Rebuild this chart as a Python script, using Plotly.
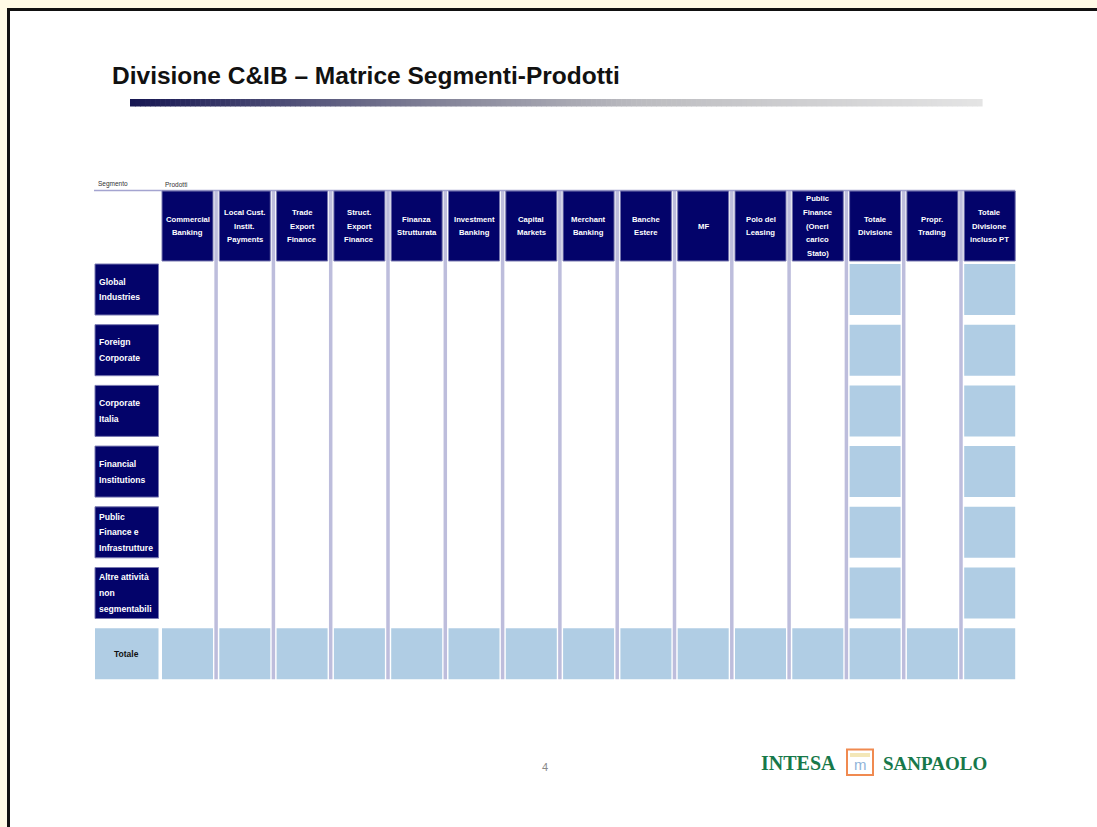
import plotly.graph_objects as go

# ---------------- data ----------------
title_text = "Divisione C&IB – Matrice Segmenti-Prodotti"
products = [
    "Commercial\nBanking",
    "Local Cust.\nInstit.\nPayments",
    "Trade\nExport\nFinance",
    "Struct.\nExport\nFinance",
    "Finanza\nStrutturata",
    "Investment\nBanking",
    "Capital\nMarkets",
    "Merchant\nBanking",
    "Banche\nEstere",
    "MF",
    "Polo del\nLeasing",
    "Public\nFinance\n(Oneri\ncarico\nStato)",
    "Totale\nDivisione",
    "Propr.\nTrading",
    "Totale\nDivisione\nincluso PT",
]
segments = [
    "Global\nIndustries",
    "Foreign\nCorporate",
    "Corporate\nItalia",
    "Financial\nInstitutions",
    "Public\nFinance e\nInfrastrutture",
    "Altre attività\nnon\nsegmentabili",
]
total_label = "Totale"
highlight_products = ["Totale\nDivisione", "Totale\nDivisione\nincluso PT"]
row_header = "Segmento"
col_header = "Prodotti"
page_number = "4"
logo_left = "INTESA"
logo_right = "SANPAOLO"

# ---------------- style / geometry ----------------
W, H = 1097, 827
NAVY = "#03036A"
LIGHT = "#B0CDE4"
LAV = "#BDBDDC"
NARROW = "Liberation Sans Narrow, Arial Narrow, Liberation Sans, Arial"

col_x0, col_pitch, col_w = 162.0, 57.3, 51.0
row_y0, row_pitch, row_h = 264.0, 60.7, 51.0
hdr_top, hdr_bot = 191.0, 261.0
lab_x0, lab_x1 = 95.0, 158.5

fig = go.Figure()
shapes = []
ann = []

# slide background + frame
shapes.append(dict(type="rect", x0=8.5, y0=9.5, x1=W + 20, y1=H + 20,
                   fillcolor="white", line=dict(color="#111111", width=3), layer="below"))

# title
ann.append(dict(x=110, y=75, text="<b>" + title_text.replace("&", "&amp;") + "</b>",
                xanchor="left", yanchor="middle", showarrow=False,
                font=dict(family=NARROW, size=24.5, color="#111111")))

# gradient bar under title
stops = [(0.0, (22, 22, 82)), (0.35, (128, 128, 150)), (0.6, (188, 188, 192)), (1.0, (228, 228, 228))]
def interp(t):
    for (t0, c0), (t1, c1) in zip(stops[:-1], stops[1:]):
        if t0 <= t <= t1:
            f = (t - t0) / (t1 - t0)
            return "rgb(%d,%d,%d)" % tuple(round(a + (b - a) * f) for a, b in zip(c0, c1))
    return "rgb(228,228,228)"
gx0, gx1, nseg = 130.0, 982.0, 170
for k in range(nseg):
    a = gx0 + (gx1 - gx0) * k / nseg
    b = gx0 + (gx1 - gx0) * (k + 1) / nseg + 0.6
    shapes.append(dict(type="rect", x0=a, x1=b, y0=99, y1=106.5,
                       fillcolor=interp((k + 0.5) / nseg), line=dict(width=0)))

n_col = len(products)
n_row = len(segments)
col_left = [col_x0 + i * col_pitch for i in range(n_col)]
row_top = [row_y0 + j * row_pitch for j in range(n_row + 1)]
grid_bottom = row_top[-1] + row_h

# vertical separators between product columns
for i in range(1, n_col):
    xs = col_left[i] - 3.2
    shapes.append(dict(type="line", x0=xs, x1=xs, y0=hdr_top, y1=grid_bottom,
                       line=dict(color=LAV, width=3.5)))

# top horizontal rule
shapes.append(dict(type="line", x0=lab_x0 - 1, x1=col_left[-1] + col_w, y0=hdr_top - 0.5, y1=hdr_top - 0.5,
                   line=dict(color="#A4A4D0", width=1.5)))

# labels above
ann.append(dict(x=lab_x0 + 1, y=184, text=row_header, xanchor="left", yanchor="middle", showarrow=False,
                font=dict(family=NARROW, size=6.5, color="#333333")))
ann.append(dict(x=col_x0 + 1, y=184, text=col_header, xanchor="left", yanchor="middle", showarrow=False,
                font=dict(family=NARROW, size=6.5, color="#333333")))

def add_lines(text, xc, yc, anchor, size, color, spacing, bold=True):
    lines = text.split("\n")
    n = len(lines)
    for k, ln in enumerate(lines):
        y = yc + (k - (n - 1) / 2) * spacing
        ann.append(dict(x=xc, y=y, text=("<b>%s</b>" % ln) if bold else ln,
                        xanchor=anchor, yanchor="middle", showarrow=False,
                        font=dict(family=NARROW, size=size, color=color)))

# header cells
for i, p in enumerate(products):
    x0 = col_left[i]
    shapes.append(dict(type="rect", x0=x0, x1=x0 + col_w, y0=hdr_top, y1=hdr_bot,
                       fillcolor=NAVY, line=dict(color="#7878B0", width=1)))
    add_lines(p, x0 + col_w / 2, (hdr_top + hdr_bot) / 2, "center", 7.7, "white", 13.8)

# segment label cells and highlighted cells
for j, s in enumerate(segments):
    y0 = row_top[j]
    shapes.append(dict(type="rect", x0=lab_x0, x1=lab_x1, y0=y0, y1=y0 + row_h,
                       fillcolor=NAVY, line=dict(color="#7878B0", width=1)))
    add_lines(s, lab_x0 + 1.5, y0 + row_h / 2, "left", 8.6, "white", 15.8)
    for i, p in enumerate(products):
        if p in highlight_products:
            x0 = col_left[i]
            shapes.append(dict(type="rect", x0=x0, x1=x0 + col_w, y0=y0, y1=y0 + row_h,
                               fillcolor=LIGHT, line=dict(width=0)))

# total row
yt = row_top[n_row]
shapes.append(dict(type="rect", x0=lab_x0, x1=lab_x1, y0=yt, y1=yt + row_h,
                   fillcolor=LIGHT, line=dict(width=0)))
add_lines(total_label, (lab_x0 + lab_x1) / 2, yt + row_h / 2, "center", 8.5, "#111111", 14)
for i in range(n_col):
    x0 = col_left[i]
    shapes.append(dict(type="rect", x0=x0, x1=x0 + col_w, y0=yt, y1=yt + row_h,
                       fillcolor=LIGHT, line=dict(width=0)))

# page number
ann.append(dict(x=545, y=767, text=page_number, showarrow=False, xanchor="center", yanchor="middle",
                font=dict(family="Liberation Sans, Arial", size=11, color="#888888")))

# logo
GREEN = "#17784A"
ann.append(dict(x=838, y=763, text="<b>" + logo_left + "</b>", showarrow=False, xanchor="right", yanchor="middle",
                font=dict(family="Liberation Serif, Times New Roman", size=20, color=GREEN)))
ann.append(dict(x=881, y=763, text="<b>" + logo_right + "</b>", showarrow=False, xanchor="left", yanchor="middle",
                font=dict(family="Liberation Serif, Times New Roman", size=19, color=GREEN)))
shapes.append(dict(type="rect", x0=847, x1=873, y0=749.5, y1=775, fillcolor="white",
                   line=dict(color="#F08A50", width=2)))
shapes.append(dict(type="rect", x0=850, x1=870, y0=753, y1=757, fillcolor="#F3E7B8", line=dict(width=0)))
ann.append(dict(x=860, y=764, text="m", showarrow=False, xanchor="center", yanchor="middle",
                font=dict(family="Liberation Sans, Arial", size=15, color="#8FB3D9")))

fig.update_layout(
    width=W, height=H,
    margin=dict(l=0, r=0, t=0, b=0),
    paper_bgcolor="#FFFAE6", plot_bgcolor="rgba(0,0,0,0)",
    xaxis=dict(range=[0, W], visible=False, fixedrange=True),
    yaxis=dict(range=[H, 0], visible=False, fixedrange=True),
    shapes=shapes, annotations=ann, showlegend=False,
)
fig.write_html("out.html", config={"displayModeBar": False},
               post_script="document.body.style.margin='0';document.body.style.overflow='hidden';")
